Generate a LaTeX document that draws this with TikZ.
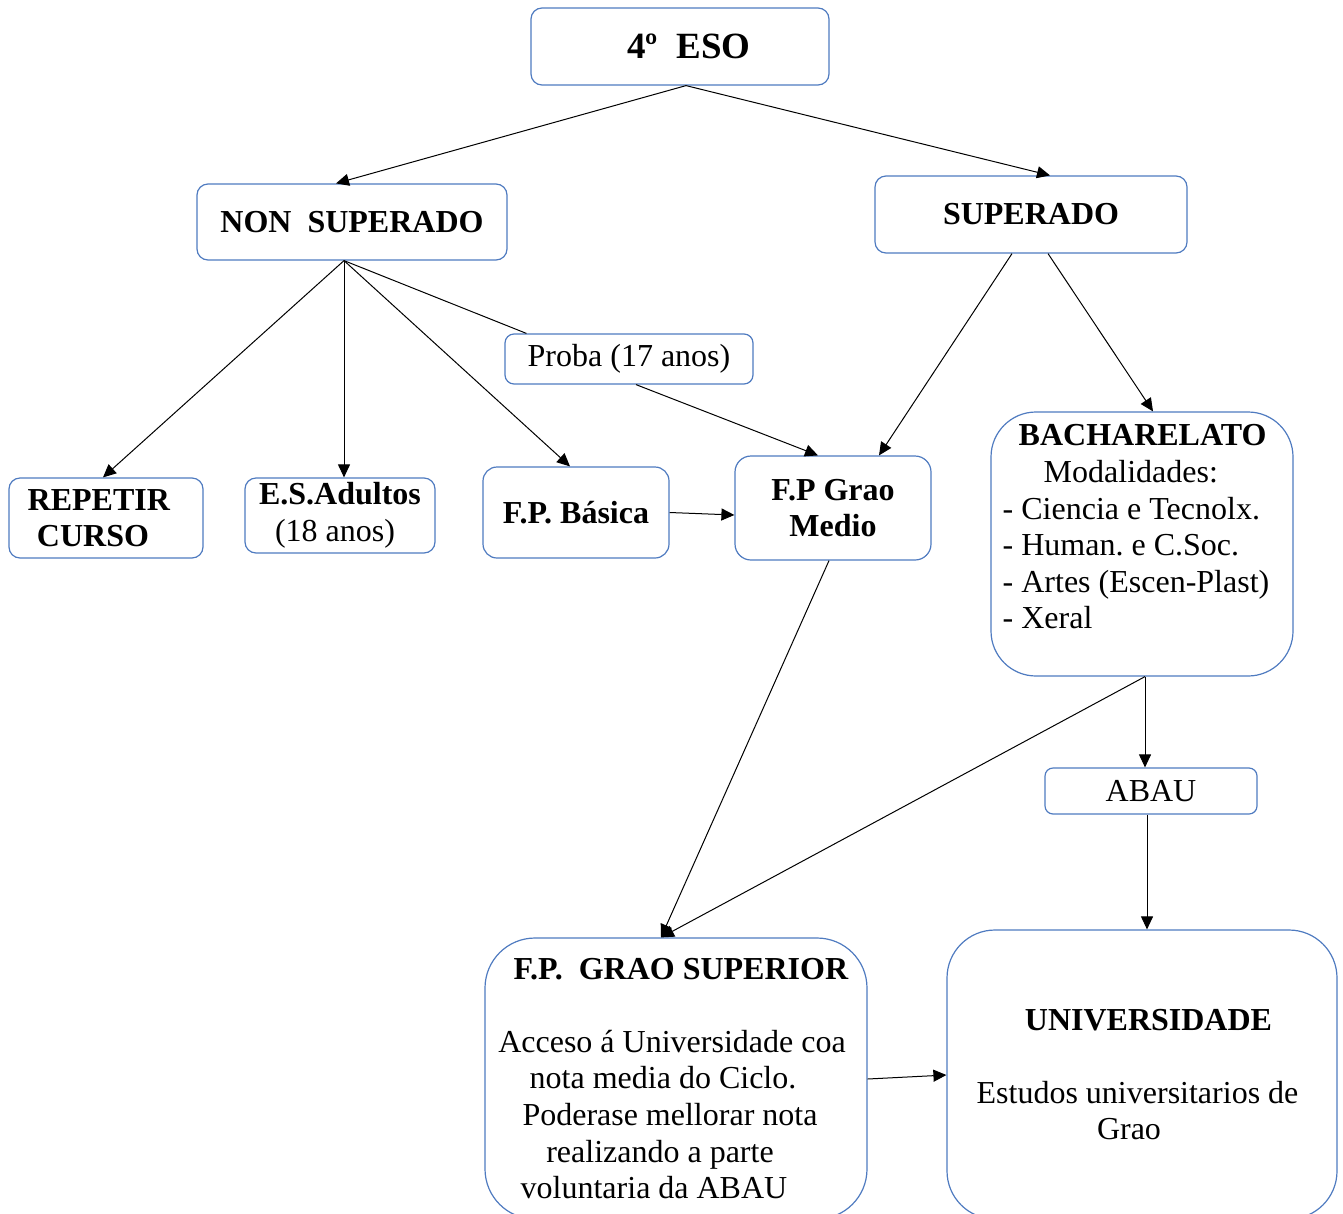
\documentclass[tikz,border=0pt]{standalone}
\usepackage{fontspec}
\setmainfont{Liberation Serif}
\usetikzlibrary{arrows.meta}
\frenchspacing
\definecolor{boxblue}{HTML}{4F7BC0}
\tikzstyle{smallrect} = [rectangle, rounded corners=11pt, draw=boxblue, line width=1.2pt,
    align=center, font=\fontsize{32}{36.6}\selectfont]
\tikzstyle{bigrect} = [smallrect, rounded corners=48pt]
\tikzstyle{arrow} = [line width=1pt,-{Triangle[length=13pt,width=12pt]}]
\tikzstyle{plainline} = [line width=1pt]

\begin{document}
\begin{tikzpicture}[x=1pt, y=-1pt]
    \useasboundingbox (0,0) rectangle (1343,1213);
    % top nodes
    \node (ESO) [smallrect, minimum width=298pt, minimum height=77pt, font=\fontsize{37}{40}\selectfont\bfseries] at (680,46.5) {\hspace*{18pt}4º\ \ ESO};
    \node (NonSuperado) [smallrect, minimum width=310pt, minimum height=76pt] at (352,222) {\textbf{NON\ \ SUPERADO}};
    \node (Superado) [smallrect, minimum width=312pt, minimum height=77pt] at (1031,214.5) {\textbf{SUPERADO}};

    % middle nodes
    \node (Proba) [smallrect, rounded corners=9pt, minimum width=248pt, minimum height=50pt] at (629,359) {Proba (17 anos)};
    \node (Repetir) [smallrect, minimum width=194pt, minimum height=80pt] at (106,518) {\mbox{\textbf{REPETIR}\hspace{14pt}}\\\mbox{\textbf{CURSO}\hspace{26pt}}};
    \node (Adultos) [smallrect, minimum width=190pt, minimum height=75pt] at (340,515.5) {\textbf{E.S.Adultos}\\\mbox{(18 anos)\hspace{10pt}}};
    \node (Basica) [smallrect, rounded corners=14pt, minimum width=186pt, minimum height=91pt] at (576,512.5) {\textbf{F.P. Básica}};
    \node (GraoMedio) [smallrect, rounded corners=16pt, minimum width=196pt, minimum height=104pt] at (833,508) {\textbf{F.P Grao}\\\textbf{Medio}};
    \node (Bach) [bigrect, rounded corners=45pt, minimum width=302pt, minimum height=264pt, align=left] at (1142,544) {\hspace*{16pt}\textbf{BACHARELATO}\\\hspace*{41pt}Modalidades:\\- Ciencia e Tecnolx.\\- Human. e C.Soc.\\\mbox{- Artes (Escen-Plast)\hspace{12pt}}\\- Xeral\\[-2pt]\mbox{}};
    \node (ABAU) [smallrect, rounded corners=8pt, minimum width=212pt, minimum height=46pt] at (1151,791) {ABAU};

    % bottom nodes
    \node (GraoSuperior) [bigrect, rounded corners=50pt, minimum width=382pt, minimum height=281pt] at (676,1078.5) {\mbox{\hspace{10pt}\textbf{F.P.\ \ GRAO SUPERIOR}}\\[36.6pt]\mbox{Acceso á Universidade coa\hspace{8pt}}\\\mbox{nota media do Ciclo.\hspace{26pt}}\\\mbox{Poderase mellorar nota\hspace{12pt}}\\\mbox{realizando a parte\hspace{32pt}}\\\mbox{voluntaria da ABAU\hspace{44pt}}};
    \node (Univ) [bigrect, rounded corners=48pt, minimum width=390pt, minimum height=289pt] at (1142,1074.5) {\mbox{\hspace{13pt}\textbf{UNIVERSIDADE}}\\[36.6pt]\mbox{Estudos universitarios de\hspace{9pt}}\\\mbox{Grao\hspace{26pt}}};

    % arrows
    \draw [arrow] ([xshift=6pt]ESO.south) -- ([xshift=-16pt]NonSuperado.north);
    \draw [arrow] ([xshift=6pt]ESO.south) -- ([xshift=19pt]Superado.north);

    \draw [arrow] ([xshift=-8pt]NonSuperado.south) -- ([xshift=-3pt]Repetir.north);
    \draw [arrow] ([xshift=-8pt]NonSuperado.south) -- ([xshift=4pt]Adultos.north);
    \draw [arrow] ([xshift=-8pt]NonSuperado.south) -- ([xshift=-6pt]Basica.north);
    \draw [plainline] ([xshift=-8pt]NonSuperado.south) -- ([xshift=22pt]Proba.north west);
    \draw [arrow] ([xshift=7pt]Proba.south) -- ([xshift=-15pt]GraoMedio.north);
    \draw [arrow] (Basica.east) -- ([yshift=-7pt]GraoMedio.west);

    \draw [arrow] ([xshift=-19pt]Superado.south) -- ([xshift=46pt]GraoMedio.north);
    \draw [arrow] ([xshift=17pt]Superado.south) -- ([xshift=11pt]Bach.north);

    \draw [arrow] ([xshift=-4pt]GraoMedio.south) -- ([xshift=-15pt]GraoSuperior.north);
    \draw [arrow] ([xshift=3pt]Bach.south) -- ([xshift=-15pt]GraoSuperior.north);
    \draw [arrow] ([xshift=3pt]Bach.south) -- ([xshift=-6pt]ABAU.north);
    \draw [arrow] ([xshift=-4pt]ABAU.south) -- ([xshift=5pt]Univ.north);
    \draw [arrow] ([yshift=-0.5pt]GraoSuperior.east) -- ([yshift=-0.5pt]Univ.west);
\end{tikzpicture}
\end{document}
